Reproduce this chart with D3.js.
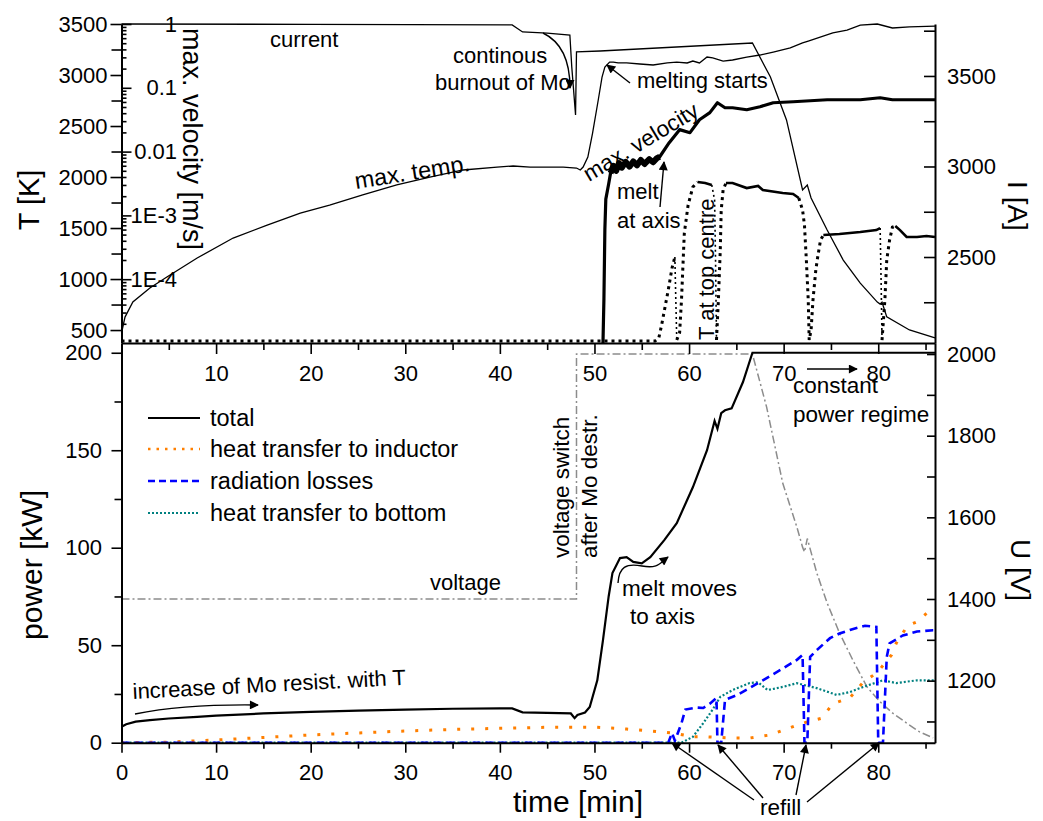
<!DOCTYPE html>
<html><head><meta charset="utf-8">
<script src="https://cdn.jsdelivr.net/npm/d3@7"></script>
<style>
body{margin:0;background:#fff}
svg{display:block;background:#fff}
text{font-family:"Liberation Sans",Arial,sans-serif;fill:#000}
</style>
</head><body>
<svg id="chart" width="1043" height="821"></svg>
<script>
// ---------------- DATA ----------------
const timeTicksTop = [10,20,30,40,50,60,70,80];
const timeTicksBottom = [0,10,20,30,40,50,60,70,80];
const tempTicks = [500,1000,1500,2000,2500,3000,3500];
const currentTicks = [2500,3000,3500];
const velocityTicks = [1,0.1,0.01,1e-3,1e-4];
const velocityTickLabels = ["1","0.1","0.01","1E-3","1E-4"];
const powerTicks = [0,50,100,150,200];
const voltageTicks = [1200,1400,1600,1800,2000];

// top panel: current [A] (right axis)
const currentA = [[0,3787],[20,3785],[41.3,3782],[42.4,3743],[45,3737],[47.4,3726],[47.6,3550],[48.0,3285],[48.1,3633],[50.6,3638],[66.7,3682],[68.6,3494],[70.3,3257],[72.0,2870],[72.5,2898],[72.9,2826],[74.6,2649],[76.3,2483],[78.1,2356],[79.9,2251],[80.2,2240],[80.4,2250],[80.9,2169],[83.3,2097],[86,2053]];
// top panel: max. temperature [K]
const maxTemp = [[0,471],[0.37,627],[1.2,775],[3.0,912],[4.8,1020],[8.0,1206],[11.8,1402],[15.4,1529],[18.9,1647],[22.0,1725],[25.5,1824],[29.1,1922],[32.6,2000],[36.1,2069],[39.7,2098],[41.4,2108],[43.2,2098],[46.7,2098],[48.1,2088],[48.5,2069],[48.8,2098],[49.3,2196],[49.8,2431],[50.4,2755],[50.8,2980],[51.1,3078],[51.6,3127],[52.0,3127],[52.5,3118],[53.4,3118],[54.8,3108],[56.2,3098],[57.7,3118],[58.7,3127],[59.8,3118],[60.4,3137],[61.1,3118],[61.9,3176],[62.5,3167],[63.6,3137],[64.6,3147],[66.1,3176],[67.5,3196],[68.9,3225],[70.7,3265],[72.0,3314],[72.6,3333],[75.2,3412],[76.7,3441],[78.1,3490],[79.9,3500],[81.5,3461],[83.3,3471],[86,3480]];
// top panel: max. velocity [m/s] (log axis)
const maxVelocity = [[50.9,1.0e-5],[51.0,4.9e-5],[51.1,6.0e-4],[51.2,1.8e-3],[51.5,3.1e-3],[51.7,4.6e-3],[52.0,6.0e-3],[52.3,5.0e-3],[52.6,6.6e-3],[52.9,5.6e-3],[53.3,6.9e-3],[53.7,5.8e-3],[54.1,7.0e-3],[54.5,6.1e-3],[54.9,7.4e-3],[55.3,6.4e-3],[55.8,7.6e-3],[56.2,6.8e-3],[56.6,7.9e-3],[56.9,8.3e-3],[57.9,0.0138],[59.0,0.0221],[60.1,0.0198],[61.1,0.0316],[62.2,0.0408],[63.0,0.0583],[63.8,0.0487],[64.6,0.0487],[66.1,0.0453],[67.5,0.0505],[68.9,0.0583],[71.0,0.0604],[74.6,0.065],[78.1,0.065],[80.2,0.0698],[81.5,0.065],[86,0.065]];
// top panel: T at top centre [K]
const tTopDotted = [
  [[0,392],[56.4,392],[56.8,422],[57.1,549],[57.4,696],[57.8,892],[58.2,1108],[58.5,1216]],
  [[58.7,402],[59.0,471],[59.2,794],[59.5,1451],[59.9,1725],[60.4,1902],[60.9,1951]],
  [[62.9,402],[63.1,794],[63.3,1284],[63.4,1676],[63.6,1873],[63.9,1941]],
  [[71.6,1794],[72.0,1676],[72.2,1529],[72.4,1186],[72.6,794],[72.7,402],[72.9,500],[73.1,794],[73.4,1088],[73.6,1216],[73.9,1382],[74.2,1431]],
  [[80.4,402],[80.7,794],[80.9,1186],[81.2,1382],[81.5,1510],[81.8,1520]]
];
const tTopSolid = [
  [[60.9,1951],[61.7,1941],[62.4,1922]],
  [[63.9,1941],[64.6,1941],[66.1,1892],[67.3,1912],[67.8,1873],[69.9,1843],[71.0,1833],[71.6,1794]],
  [[74.2,1431],[75.9,1441],[78.1,1461],[79.8,1480],[80.2,1500]],
  [[81.8,1520],[82.3,1480],[83.0,1412],[84.1,1412],[85.1,1422],[86,1412]]
];
const tTopRefill = [
  [[58.5,1216],[58.6,794],[58.7,402]],
  [[62.4,1922],[62.7,1775],[62.8,1186],[62.9,402]],
  [[80.2,1500],[80.3,990],[80.4,402]]
];

// bottom panel: power [kW]
const totalPower = [[0,8.2],[0.5,9.5],[1.5,10.8],[3,11.6],[5,12.4],[8,13.2],[10,13.9],[15,15],[20,15.8],[25,16.4],[30,17],[35,17.4],[40,17.6],[41.3,17.6],[42.4,15.6],[45,15.3],[47.5,15.0],[47.9,12.6],[48.2,14.2],[49.0,15.5],[49.5,18.3],[50.3,32],[50.9,52.6],[51.5,75],[51.9,87],[52.7,94.7],[53.4,95.2],[54.1,92.7],[55,92],[55.9,95.2],[57.4,104],[58.7,112.6],[60.4,131],[61.9,150],[62.7,165],[63.0,161],[63.4,169],[63.8,170.5],[64.5,171.5],[65.7,185],[66.7,200],[86,200]];
const heatInductor = [[0,0],[5,0.3],[10,1.4],[15,2.7],[20,4],[25,5],[30,6],[35,6.8],[40,7.4],[45,7.9],[50,8],[53.4,7],[56,6],[58.3,5],[60.4,3],[61.9,3],[64,2.5],[66.4,2.4],[68.6,4],[70,6.5],[71.4,9],[72.5,10.7],[74,12.5],[75.2,20],[77,23],[78.4,31],[79.9,36],[81.4,45],[81.9,51],[83.1,60],[84.1,62],[85.5,68],[86,68.5]];
const radiationLosses = [[0,0],[57.8,0],[58.2,5],[58.5,1],[59.2,10],[59.6,17],[60.8,18],[61.5,17.8],[62.2,20],[62.9,23],[63.0,0],[63.4,0],[63.8,22],[65.1,24.5],[66.4,28],[67.8,32],[69.9,38],[71.4,42.5],[72.0,45],[72.2,0],[72.5,0],[72.8,44],[73.5,47.5],[74.9,53.6],[75.9,56],[77.0,57.8],[78.6,60],[79.8,59.4],[80.0,0],[80.5,0],[80.9,44],[81.2,51],[82.6,55],[84.1,57],[85.8,57.7],[86,57.7]];
const heatBottom = [[0,0],[59.2,0],[60.4,3],[61.5,10],[62.5,17],[63.3,23.5],[64.6,27],[66.4,30.6],[67.3,31],[68.3,27],[69.9,28.6],[71.4,30.5],[73.5,28],[75.6,24.5],[77.0,26],[78.4,28.6],[80.5,32],[81.9,30.6],[84.1,32],[86,32]];
// bottom panel: voltage [V] (right axis)
const voltage = [[0,1400],[48.1,1400],[48.1,2000],[66.7,2000],[68.2,1870],[69.9,1684],[71.4,1576],[72.0,1527],[72.2,1515],[72.5,1548],[73.5,1464],[74.6,1390],[75.9,1317],[77.3,1251],[78.8,1185],[80.2,1148],[81.5,1121],[83.0,1096],[84.4,1074],[85.8,1060]];

const legendLabels = ["total","heat transfer to inductor","radiation losses","heat transfer to bottom"];

// ---------------- LAYOUT ----------------
const svg = d3.select("#chart");
const FONT = "Liberation Sans, Arial, sans-serif";
const X0 = 121.5, X1 = 935;
const TOP_T = 24, TOP_B = 343, BOT_B = 742.7;

const x = d3.scaleLinear().domain([0,86]).range([X0,X1]);
const yT = d3.scaleLinear().domain([373,3500]).range([TOP_B,TOP_T]);
const yI = d3.scaleLinear().domain([2025,3787]).range([TOP_B,TOP_T]);
const yV = d3.scaleLog().domain([1e-5,1]).range([TOP_B,TOP_T]);
const yP = d3.scaleLinear().domain([0,205]).range([BOT_B,TOP_B]);
const yU = d3.scaleLinear().domain([1048,2027]).range([BOT_B,TOP_B]);
const fmt = d3.format("d");

const defs = svg.append("defs");
defs.append("marker").attr("id","ah").attr("viewBox","0 0 10 10")
  .attr("refX",9).attr("refY",5).attr("markerWidth",13).attr("markerHeight",9)
  .attr("markerUnits","userSpaceOnUse").attr("orient","auto")
  .append("path").attr("d","M0,0 L10,5 L0,10 z").attr("fill","#000");

function styleAxis(g, noDomain){
  g.attr("font-size",22).attr("font-family",FONT);
  if(noDomain) g.select(".domain").remove();
  else g.select(".domain").attr("stroke-width",2).attr("stroke","#000");
  g.selectAll(".tick line").attr("stroke-width",1.6).attr("stroke","#000");
  g.selectAll(".tick text").attr("fill","#000");
}

// ----- lines -----
const lineT = d3.line().x(d=>x(d[0])).y(d=>yT(d[1]));
const lineI = d3.line().x(d=>x(d[0])).y(d=>yI(d[1]));
const lineV = d3.line().x(d=>x(d[0])).y(d=>yV(d[1]));
const lineP = d3.line().x(d=>x(d[0])).y(d=>yP(d[1]));
const lineU = d3.line().x(d=>x(d[0])).y(d=>yU(d[1]));

const plot = svg.append("g");
// voltage
plot.append("path").attr("d",lineU(voltage)).attr("fill","none")
  .attr("stroke","#8c8c8c").attr("stroke-width",1.5).attr("stroke-dasharray","8,3,2,3");
// power components
plot.append("path").attr("d",lineP(heatBottom)).attr("fill","none")
  .attr("stroke","#008080").attr("stroke-width",2.2).attr("stroke-dasharray","2,2");
plot.append("path").attr("d",lineP(heatInductor)).attr("fill","none")
  .attr("stroke","#ff7f00").attr("stroke-width",3).attr("stroke-dasharray","3,11");
plot.append("path").attr("d",lineP(radiationLosses)).attr("fill","none")
  .attr("stroke","#0000ff").attr("stroke-width",2.6).attr("stroke-dasharray","8,5");
plot.append("path").attr("d",lineP(totalPower)).attr("fill","none")
  .attr("stroke","#000").attr("stroke-width",2.2);

// top panel
plot.append("path").attr("d",lineI(currentA)).attr("fill","none")
  .attr("stroke","#000").attr("stroke-width",1.3);
plot.append("path").attr("d",lineT(maxTemp)).attr("fill","none")
  .attr("stroke","#000").attr("stroke-width",1.3);
plot.append("path").attr("d",lineV(maxVelocity)).attr("fill","none")
  .attr("stroke","#000").attr("stroke-width",3.2).attr("stroke-linejoin","round");
// the noisy stretch of the velocity record appears as a thick band
plot.append("path").attr("d",lineV(maxVelocity.filter(d=>d[0]>=51.7&&d[0]<=56.9))).attr("fill","none")
  .attr("stroke","#000").attr("stroke-width",6).attr("stroke-linejoin","round");
tTopDotted.forEach(s=>plot.append("path").attr("d",lineT(s)).attr("fill","none")
  .attr("stroke","#000").attr("stroke-width",3).attr("stroke-dasharray","3,4"));
tTopSolid.forEach(s=>plot.append("path").attr("d",lineT(s)).attr("fill","none")
  .attr("stroke","#000").attr("stroke-width",2.6));
tTopRefill.forEach(s=>plot.append("path").attr("d",lineT(s)).attr("fill","none")
  .attr("stroke","#000").attr("stroke-width",1.6).attr("stroke-dasharray","2,3"));

// ----- axes -----
styleAxis(svg.append("g").attr("transform",`translate(0,${TOP_B})`)
  .call(d3.axisBottom(x).tickValues(timeTicksTop).tickSize(11).tickPadding(11).tickSizeOuter(0).tickFormat(fmt)));
styleAxis(svg.append("g").attr("transform",`translate(0,${TOP_B})`)
  .call(d3.axisBottom(x).tickValues(d3.range(5,86,10)).tickSize(7).tickFormat("")), true);
styleAxis(svg.append("g").attr("transform",`translate(0,${BOT_B})`)
  .call(d3.axisBottom(x).tickValues(timeTicksBottom).tickSize(10).tickPadding(12).tickSizeOuter(0).tickFormat(fmt)));
styleAxis(svg.append("g").attr("transform",`translate(0,${BOT_B})`)
  .call(d3.axisBottom(x).tickValues(d3.range(5,86,10)).tickSize(6).tickFormat("")), true);
styleAxis(svg.append("g").attr("transform",`translate(${X0},0)`)
  .call(d3.axisLeft(yT).tickValues(tempTicks).tickSize(11).tickPadding(3).tickSizeOuter(0).tickFormat(fmt)));
styleAxis(svg.append("g").attr("transform",`translate(${X0},0)`)
  .call(d3.axisLeft(yT).tickValues(d3.range(750,3500,500)).tickSize(10).tickFormat("")), true);
const vAx = svg.append("g").attr("transform",`translate(${X0},0)`)
  .call(d3.axisRight(yV).tickValues(velocityTicks).tickSize(10).tickSizeOuter(0)
    .tickFormat((d,i)=>velocityTickLabels[i]));
styleAxis(vAx, true);
vAx.selectAll(".tick text").attr("text-anchor","end").attr("x",55.5);
const vMinor = [];
for(let e=-5;e<0;e++) for(let k=2;k<10;k++) vMinor.push(k*Math.pow(10,e));
styleAxis(svg.append("g").attr("transform",`translate(${X0},0)`)
  .call(d3.axisRight(yV).tickValues(vMinor).tickSize(5).tickFormat("")), true);
styleAxis(svg.append("g").attr("transform",`translate(${X1},0)`)
  .call(d3.axisRight(yI).tickValues(d3.range(2250,3751,250)).tickSize(-11).tickPadding(12).tickSizeOuter(0)
    .tickFormat(d=>currentTicks.includes(d)?fmt(d):"")));
styleAxis(svg.append("g").attr("transform",`translate(${X0},0)`)
  .call(d3.axisLeft(yP).tickValues(powerTicks).tickSize(10).tickPadding(9.5).tickSizeOuter(0).tickFormat(fmt)));
styleAxis(svg.append("g").attr("transform",`translate(${X0},0)`)
  .call(d3.axisLeft(yP).tickValues([25,75,125,175]).tickSize(7).tickFormat("")), true);
styleAxis(svg.append("g").attr("transform",`translate(${X1},0)`)
  .call(d3.axisRight(yU).tickValues(voltageTicks).tickSize(-8).tickPadding(12).tickSizeOuter(0).tickFormat(fmt)));
styleAxis(svg.append("g").attr("transform",`translate(${X1},0)`)
  .call(d3.axisRight(yU).tickValues(d3.range(1100,2000,200)).tickSize(-8).tickFormat("")), true);

// ----- titles & annotations -----
function txt(s, x0, y0, size, rot, anchor){
  return svg.append("text").attr("font-size",size).attr("font-family",FONT)
    .attr("text-anchor",anchor||"start")
    .attr("transform",`translate(${x0},${y0})`+(rot?` rotate(${rot})`:"")).text(s);
}
txt("T [K]", 39, 200, 29, -90, "middle");
txt("power [kW]", 42, 565, 30, -90, "middle");
txt("time [min]", 578, 812, 30, 0, "middle");
txt("I [A]", 1008, 206, 28, 90, "middle");
txt("U [V]", 1011, 570, 28, 90, "middle");
txt("max. velocity [m/s]", 183, 28, 27, 90, "start");

txt("current", 270, 47, 22);
txt("continous", 453, 63, 22);
txt("burnout of Mo", 435, 90, 22);
txt("melting starts", 637, 88, 22);
txt("max. temp.", 356, 189, 23.5, -9);
txt("max. velocity", 589, 182, 22.5, -31);
txt("melt", 617, 199, 22);
txt("at axis", 617, 228, 22);
txt("T at top centre", 714, 340, 22, -90);
txt("voltage switch", 569, 558, 22.5, -90);
txt("after Mo destr.", 597, 558, 22.5, -90);
txt("voltage", 430, 590, 22);
txt("increase of Mo resist. with T", 133, 699, 22, -3);
txt("melt moves", 622, 596, 22.5);
txt("to axis", 630, 624, 22.5);
txt("constant", 793, 393, 22.5);
txt("power regime", 793, 422, 22.5);
txt("refill", 760, 815, 22.5);

function arrow(d){
  svg.append("path").attr("d",d).attr("fill","none").attr("stroke","#000")
    .attr("stroke-width",1.4).attr("marker-end","url(#ah)");
}
arrow("M543,33 Q570,46 570,88");
arrow("M630,83 L607,65");
arrow("M660,207 L664,162");
arrow("M135,714 Q185,704 258,705");
arrow("M618,583 C619,567 626,563 642,566 S660,563 668,557");
arrow("M807,369 L857,369");
arrow("M754,800 L672,743");
arrow("M763,798 L718,745");
arrow("M796,795 L806,745");
arrow("M807,802 L879,743");

// ----- legend -----
const legStyles = [
  {c:"#000", w:2.2, d:null},
  {c:"#ff7f00", w:2.5, d:"2.5,6"},
  {c:"#0000ff", w:2.5, d:"7,4"},
  {c:"#008080", w:2.2, d:"2,2"}
];
const legY = [418,449,481,513];
legendLabels.forEach((lab,i)=>{
  const l = svg.append("line").attr("x1",148).attr("x2",200).attr("y1",legY[i]).attr("y2",legY[i])
    .attr("stroke",legStyles[i].c).attr("stroke-width",legStyles[i].w);
  if(legStyles[i].d) l.attr("stroke-dasharray",legStyles[i].d);
  txt(lab, 210, legY[i]+8, 23.5);
});
</script>
</body></html>
